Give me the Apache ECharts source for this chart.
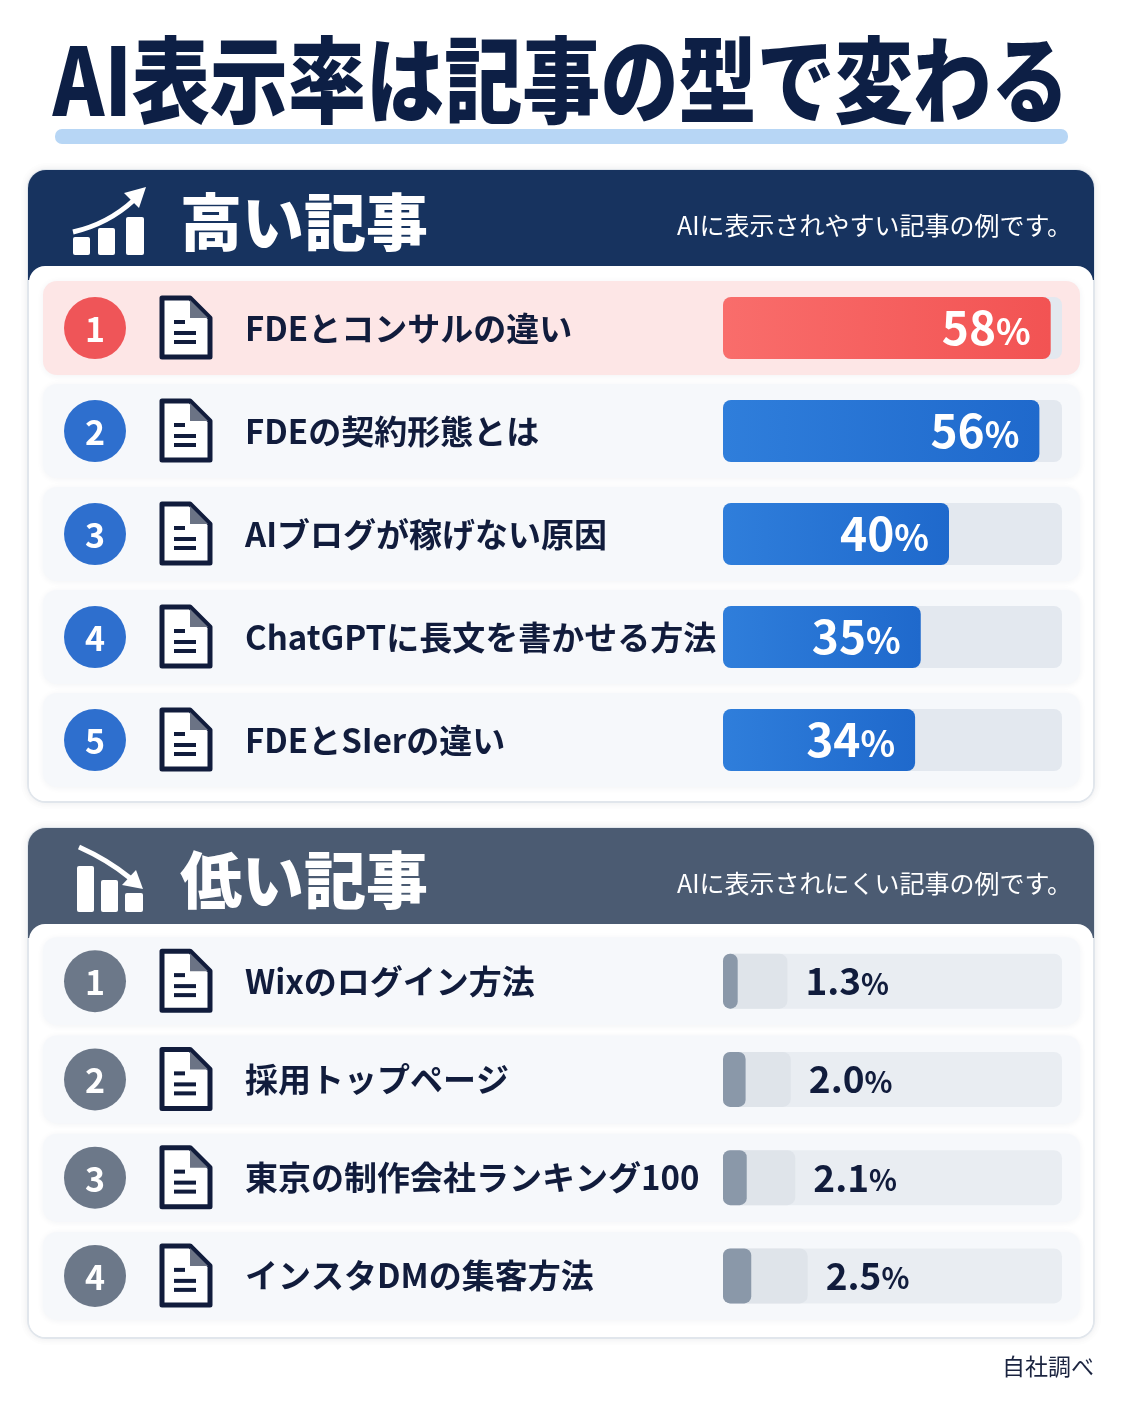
<!DOCTYPE html>
<html lang="ja">
<head>
<meta charset="UTF-8">
<title>AI表示率は記事の型で変わる</title>
<script src="https://cdn.jsdelivr.net/npm/echarts@6/dist/echarts.min.js"></script>
<style>
    html, body { margin: 0; padding: 0; background: #ffffff; }
    #chart { width: 1122px; height: 1402px; }
</style>
</head>
<body>
<div id="chart"></div>
<script type="application/javascript">
    var FONT = '"Noto Sans CJK JP", "Noto Sans", sans-serif';

    // データ
    var highTitles = ['FDEとコンサルの違い', 'FDEの契約形態とは', 'AIブログが稼げない原因', 'ChatGPTに長文を書かせる方法', 'FDEとSIerの違い'];
    var highRates = [58, 56, 40, 35, 34];
    var lowTitles = ['Wixのログイン方法', '採用トップページ', '東京の制作会社ランキング100', 'インスタDMの集客方法'];
    var lowRates = [1.3, 2.0, 2.1, 2.5];
    var lowBand = [5.7, 6.0, 6.4, 7.5];   // 数値の手前の薄い帯（目盛り単位で読み取り）
    var highMax = 60;
    var lowMax = 30;

    var NAVY = '#111c3c';
    var chart = echarts.init(document.getElementById('chart'));

    function grad(c1, c2) {
        return new echarts.graphic.LinearGradient(0, 0, 1, 0, [
            { offset: 0, color: c1 }, { offset: 1, color: c2 }
        ]);
    }

    var highData = highRates.map(function (v, i) {
        return {
            value: v,
            itemStyle: { color: i === 0 ? grad('#f96d6b', '#f25353') : grad('#2f7edb', '#1f69cc') }
        };
    });

    var yLabel = {
        margin: 478,
        align: 'left',
        fontFamily: FONT,
        fontSize: 33,
        fontWeight: 'bold',
        color: NAVY
    };

    var option = {
        animation: false,
        backgroundColor: '#ffffff',
        grid: [
            { left: 723, width: 339, top: 276.5, height: 515 },
            { left: 723, width: 339, top: 932, height: 393 }
        ],
        xAxis: [
            { gridIndex: 0, type: 'value', min: 0, max: highMax, show: false },
            { gridIndex: 1, type: 'value', min: 0, max: lowMax, show: false }
        ],
        yAxis: [
            {
                gridIndex: 0, type: 'category', data: highTitles, inverse: true, z: 10,
                axisLine: { show: false }, axisTick: { show: false }, axisLabel: yLabel
            },
            {
                gridIndex: 1, type: 'category', data: lowTitles, inverse: true, z: 10,
                axisLine: { show: false }, axisTick: { show: false }, axisLabel: yLabel
            }
        ],
        series: [
            {
                name: '高い記事',
                type: 'bar',
                xAxisIndex: 0, yAxisIndex: 0,
                data: highData,
                barWidth: 62,
                z: 3,
                showBackground: true,
                backgroundStyle: { color: '#e3e8ef', borderRadius: 8 },
                itemStyle: { borderRadius: 8 },
                label: {
                    show: true,
                    position: 'insideRight',
                    distance: 20,
                    formatter: '{n|{c}}{p|%}',
                    rich: {
                        n: { fontFamily: FONT, fontSize: 46, fontWeight: 'bold', color: '#ffffff' },
                        p: { fontFamily: FONT, fontSize: 36, fontWeight: 'bold', color: '#ffffff', padding: [6, 0, 0, 0] }
                    }
                }
            },
            {
                name: '低い記事 帯',
                type: 'bar',
                xAxisIndex: 1, yAxisIndex: 1,
                data: lowBand,
                barWidth: 55,
                barGap: '-100%',
                z: 3,
                showBackground: true,
                backgroundStyle: { color: '#e9edf2', borderRadius: 8 },
                itemStyle: { color: '#dfe4ea', borderRadius: 8 },
                label: {
                    show: true,
                    position: 'right',
                    distance: 18,
                    formatter: function (p) {
                        return '{n|' + lowRates[p.dataIndex].toFixed(1) + '}{p|%}';
                    },
                    rich: {
                        n: { fontFamily: FONT, fontSize: 37, fontWeight: 'bold', color: NAVY },
                        p: { fontFamily: FONT, fontSize: 29, fontWeight: 'bold', color: NAVY, padding: [5, 0, 0, 0] }
                    }
                }
            },
            {
                name: '低い記事',
                type: 'bar',
                xAxisIndex: 1, yAxisIndex: 1,
                data: lowRates,
                barWidth: 55,
                barGap: '-100%',
                z: 4,
                itemStyle: { color: '#8a98a9', borderRadius: 7 }
            }
        ]
    };
    chart.setOption(option);

    // 装飾（行の位置はカテゴリ軸から取得）
    function docIcon(x, y) {
        return {
            type: 'group', x: x, y: y,
            children: [
                { type: 'polygon', z: 5, shape: { points: [[0, 0], [28, 0], [48, 20], [48, 59], [0, 59]] },
                  style: { fill: '#ffffff', stroke: NAVY, lineWidth: 5, lineJoin: 'round' } },
                { type: 'polygon', z: 6, shape: { points: [[28, 2], [28, 20], [46, 20]] }, style: { fill: '#6b7385' } },
                { type: 'rect', z: 6, shape: { x: 12, y: 22, width: 11, height: 4 }, style: { fill: NAVY } },
                { type: 'rect', z: 6, shape: { x: 12, y: 33, width: 22, height: 4 }, style: { fill: NAVY } },
                { type: 'rect', z: 6, shape: { x: 12, y: 42, width: 22, height: 4 }, style: { fill: NAVY } }
            ]
        };
    }

    function rows(titles, yAxisIndex, half, colorFn, bgFn) {
        var out = [];
        titles.forEach(function (t, i) {
            var cy = chart.convertToPixel({ yAxisIndex: yAxisIndex }, t);
            out.push({
                type: 'rect', z: 1,
                shape: { x: 43, y: cy - half, width: 1037, height: half * 2, r: 14 },
                style: { fill: bgFn(i), shadowBlur: 6, shadowColor: 'rgba(30,50,80,0.06)', shadowOffsetY: 1 }
            });
            out.push({
                type: 'circle', z: 5,
                shape: { cx: 95, cy: cy, r: 31 },
                style: { fill: colorFn(i) }
            });
            out.push({
                type: 'text', z: 6, x: 95, y: cy + 1,
                style: { text: String(i + 1), fill: '#ffffff', font: 'bold 34px ' + FONT, textAlign: 'center', textVerticalAlign: 'middle' }
            });
            out.push(docIcon(162, cy - 30));
        });
        return out;
    }

    var graphics = [
        // タイトル
        {
            type: 'text', x: 561, y: 80, scaleX: 0.93, scaleY: 1.12, z: 5,
            style: {
                text: 'AI表示率は記事の型で変わる', fill: '#0d1f45',
                font: '900 84px ' + FONT, textAlign: 'center', textVerticalAlign: 'middle'
            }
        },
        { type: 'rect', z: 1, shape: { x: 55, y: 129, width: 1013, height: 15, r: 7 }, style: { fill: '#b7d6f5' } },

        // 上のカード
        { type: 'rect', z: 0, shape: { x: 28, y: 170, width: 1066, height: 632, r: 18 },
          style: { fill: '#ffffff', stroke: '#e1e6ec', lineWidth: 2, shadowBlur: 8, shadowColor: 'rgba(20,40,70,0.08)' } },
        { type: 'rect', z: 0, shape: { x: 28, y: 170, width: 1066, height: 110, r: [18, 18, 0, 0] }, style: { fill: '#17335f' } },
        { type: 'rect', z: 0, shape: { x: 29, y: 266, width: 1064, height: 535, r: 16 }, style: { fill: '#ffffff' } },
        { type: 'text', x: 180, y: 222, z: 5,
          style: { text: '高い記事', fill: '#ffffff', font: '900 62px ' + FONT, textVerticalAlign: 'middle' } },
        { type: 'text', x: 1072, y: 225, z: 5,
          style: { text: 'AIに表示されやすい記事の例です。', fill: '#ffffff', font: '25px ' + FONT, textAlign: 'right', textVerticalAlign: 'middle' } },
        { type: 'rect', z: 5, shape: { x: 73, y: 237, width: 17, height: 18, r: 2 }, style: { fill: '#ffffff' } },
        { type: 'rect', z: 5, shape: { x: 98, y: 228, width: 17, height: 27, r: 2 }, style: { fill: '#ffffff' } },
        { type: 'rect', z: 5, shape: { x: 126, y: 217, width: 18, height: 38, r: 2 }, style: { fill: '#ffffff' } },
        { type: 'bezierCurve', z: 5, shape: { x1: 73, y1: 232, cpx1: 108, cpy1: 224, x2: 134, y2: 200 },
          style: { fill: 'none', stroke: '#ffffff', lineWidth: 5 } },
        { type: 'polygon', z: 5, shape: { points: [[146, 187], [124, 193], [139, 208]] }, style: { fill: '#ffffff' } },

        // 下のカード
        { type: 'rect', z: 0, shape: { x: 28, y: 828, width: 1066, height: 510, r: 18 },
          style: { fill: '#ffffff', stroke: '#e1e6ec', lineWidth: 2, shadowBlur: 8, shadowColor: 'rgba(20,40,70,0.08)' } },
        { type: 'rect', z: 0, shape: { x: 28, y: 828, width: 1066, height: 110, r: [18, 18, 0, 0] }, style: { fill: '#4b5b72' } },
        { type: 'rect', z: 0, shape: { x: 29, y: 924, width: 1064, height: 413, r: 16 }, style: { fill: '#ffffff' } },
        { type: 'text', x: 180, y: 880, z: 5,
          style: { text: '低い記事', fill: '#ffffff', font: '900 62px ' + FONT, textVerticalAlign: 'middle' } },
        { type: 'text', x: 1072, y: 883, z: 5,
          style: { text: 'AIに表示されにくい記事の例です。', fill: '#ffffff', font: '25px ' + FONT, textAlign: 'right', textVerticalAlign: 'middle' } },
        { type: 'rect', z: 5, shape: { x: 77, y: 866, width: 17, height: 46, r: 2 }, style: { fill: '#ffffff' } },
        { type: 'rect', z: 5, shape: { x: 101, y: 880, width: 17, height: 32, r: 2 }, style: { fill: '#ffffff' } },
        { type: 'rect', z: 5, shape: { x: 125, y: 893, width: 18, height: 19, r: 2 }, style: { fill: '#ffffff' } },
        { type: 'bezierCurve', z: 5, shape: { x1: 79, y1: 847, cpx1: 108, cpy1: 860, x2: 130, y2: 878 },
          style: { fill: 'none', stroke: '#ffffff', lineWidth: 5 } },
        { type: 'polygon', z: 5, shape: { points: [[143, 889], [122, 885], [136, 870]] }, style: { fill: '#ffffff' } },

        // 出典
        { type: 'text', x: 1094, y: 1366, z: 5,
          style: { text: '自社調べ', fill: '#1b2440', font: '23px ' + FONT, textAlign: 'right', textVerticalAlign: 'middle' } }
    ];

    graphics = graphics.concat(
        rows(highTitles, 0, 47,
            function (i) { return i === 0 ? '#ef5558' : '#2e6fce'; },
            function (i) { return i === 0 ? '#fde6e6' : '#f6f8fb'; }),
        rows(lowTitles, 1, 44,
            function () { return '#6c7889'; },
            function () { return '#f6f8fb'; })
    );

    chart.setOption({ graphic: { elements: graphics } });
</script>
</body>
</html>
